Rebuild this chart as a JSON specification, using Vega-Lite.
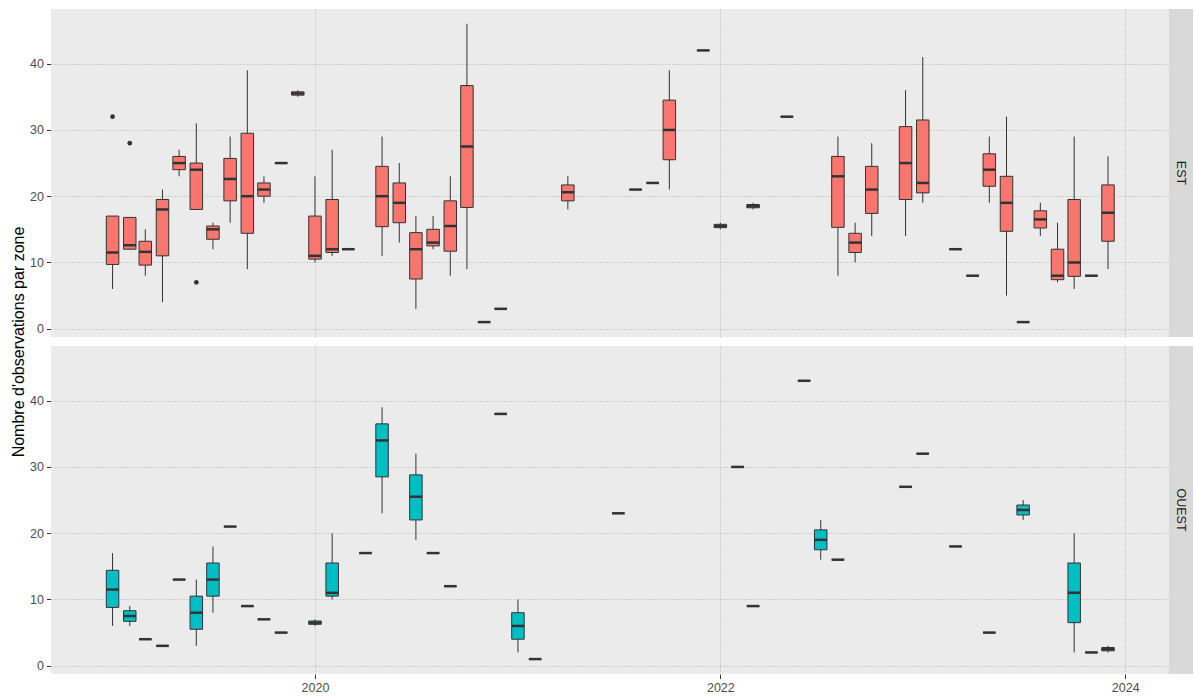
{
  "$schema": "https://vega.github.io/schema/vega-lite/v6.json",
  "padding": {"left": 10, "top": 9, "right": 0, "bottom": 0},
  "autosize": {"type": "pad"},
  "background": "#FFFFFF",
  "config": {"font": "Liberation Sans", "view": {"stroke": null}},
  "datasets": {
    "boxes": [
      {"date": "2019-01-01", "zone": "EST", "min": 6, "q1": 9.7, "med": 11.5, "q3": 17, "max": 17, "out": 32},
      {"date": "2019-02-01", "zone": "EST", "min": 12, "q1": 12, "med": 12.6, "q3": 16.8, "max": 16.8, "out": 28},
      {"date": "2019-03-01", "zone": "EST", "min": 8, "q1": 9.6, "med": 11.6, "q3": 13.2, "max": 15},
      {"date": "2019-04-01", "zone": "EST", "min": 4, "q1": 11, "med": 18, "q3": 19.5, "max": 21},
      {"date": "2019-05-01", "zone": "EST", "min": 23, "q1": 24, "med": 25, "q3": 26, "max": 27},
      {"date": "2019-06-01", "zone": "EST", "min": 18, "q1": 18, "med": 24, "q3": 25, "max": 31, "out": 7},
      {"date": "2019-07-01", "zone": "EST", "min": 12, "q1": 13.5, "med": 15, "q3": 15.5, "max": 16},
      {"date": "2019-08-01", "zone": "EST", "min": 16, "q1": 19.3, "med": 22.6, "q3": 25.7, "max": 29},
      {"date": "2019-09-01", "zone": "EST", "min": 9, "q1": 14.4, "med": 20, "q3": 29.5, "max": 39},
      {"date": "2019-10-01", "zone": "EST", "min": 19, "q1": 20, "med": 21, "q3": 22, "max": 23},
      {"date": "2019-11-01", "zone": "EST", "min": 25, "q1": 25, "med": 25, "q3": 25, "max": 25},
      {"date": "2019-12-01", "zone": "EST", "min": 35, "q1": 35.25, "med": 35.5, "q3": 35.75, "max": 36},
      {"date": "2020-01-01", "zone": "EST", "min": 10, "q1": 10.5, "med": 11, "q3": 17, "max": 23},
      {"date": "2020-02-01", "zone": "EST", "min": 11, "q1": 11.5, "med": 12, "q3": 19.5, "max": 27},
      {"date": "2020-03-01", "zone": "EST", "min": 12, "q1": 12, "med": 12, "q3": 12, "max": 12},
      {"date": "2020-05-01", "zone": "EST", "min": 11, "q1": 15.4, "med": 20, "q3": 24.5, "max": 29},
      {"date": "2020-06-01", "zone": "EST", "min": 13, "q1": 16, "med": 19, "q3": 22, "max": 25},
      {"date": "2020-07-01", "zone": "EST", "min": 3, "q1": 7.5, "med": 12, "q3": 14.5, "max": 17},
      {"date": "2020-08-01", "zone": "EST", "min": 12, "q1": 12.5, "med": 13, "q3": 15, "max": 17},
      {"date": "2020-09-01", "zone": "EST", "min": 8, "q1": 11.7, "med": 15.5, "q3": 19.3, "max": 23},
      {"date": "2020-10-01", "zone": "EST", "min": 9, "q1": 18.3, "med": 27.5, "q3": 36.7, "max": 46},
      {"date": "2020-11-01", "zone": "EST", "min": 1, "q1": 1, "med": 1, "q3": 1, "max": 1},
      {"date": "2020-12-01", "zone": "EST", "min": 3, "q1": 3, "med": 3, "q3": 3, "max": 3},
      {"date": "2021-04-01", "zone": "EST", "min": 18, "q1": 19.3, "med": 20.6, "q3": 21.7, "max": 23},
      {"date": "2021-08-01", "zone": "EST", "min": 21, "q1": 21, "med": 21, "q3": 21, "max": 21},
      {"date": "2021-09-01", "zone": "EST", "min": 22, "q1": 22, "med": 22, "q3": 22, "max": 22},
      {"date": "2021-10-01", "zone": "EST", "min": 21, "q1": 25.5, "med": 30, "q3": 34.5, "max": 39},
      {"date": "2021-12-01", "zone": "EST", "min": 42, "q1": 42, "med": 42, "q3": 42, "max": 42},
      {"date": "2022-01-01", "zone": "EST", "min": 15, "q1": 15.25, "med": 15.5, "q3": 15.75, "max": 16},
      {"date": "2022-03-01", "zone": "EST", "min": 18, "q1": 18.25, "med": 18.5, "q3": 18.75, "max": 19},
      {"date": "2022-05-01", "zone": "EST", "min": 32, "q1": 32, "med": 32, "q3": 32, "max": 32},
      {"date": "2022-08-01", "zone": "EST", "min": 8, "q1": 15.3, "med": 23, "q3": 26, "max": 29},
      {"date": "2022-09-01", "zone": "EST", "min": 10, "q1": 11.5, "med": 13, "q3": 14.4, "max": 16},
      {"date": "2022-10-01", "zone": "EST", "min": 14, "q1": 17.4, "med": 21, "q3": 24.5, "max": 28},
      {"date": "2022-12-01", "zone": "EST", "min": 14, "q1": 19.5, "med": 25, "q3": 30.5, "max": 36},
      {"date": "2023-01-01", "zone": "EST", "min": 19, "q1": 20.5, "med": 22, "q3": 31.5, "max": 41},
      {"date": "2023-03-01", "zone": "EST", "min": 12, "q1": 12, "med": 12, "q3": 12, "max": 12},
      {"date": "2023-04-01", "zone": "EST", "min": 8, "q1": 8, "med": 8, "q3": 8, "max": 8},
      {"date": "2023-05-01", "zone": "EST", "min": 19, "q1": 21.5, "med": 24, "q3": 26.4, "max": 29},
      {"date": "2023-06-01", "zone": "EST", "min": 5, "q1": 14.7, "med": 19, "q3": 23, "max": 32},
      {"date": "2023-07-01", "zone": "EST", "min": 1, "q1": 1, "med": 1, "q3": 1, "max": 1},
      {"date": "2023-08-01", "zone": "EST", "min": 14, "q1": 15.2, "med": 16.5, "q3": 17.8, "max": 19},
      {"date": "2023-09-01", "zone": "EST", "min": 7, "q1": 7.4, "med": 8, "q3": 12, "max": 16},
      {"date": "2023-10-01", "zone": "EST", "min": 6, "q1": 7.9, "med": 10, "q3": 19.5, "max": 29},
      {"date": "2023-11-01", "zone": "EST", "min": 8, "q1": 8, "med": 8, "q3": 8, "max": 8},
      {"date": "2023-12-01", "zone": "EST", "min": 9, "q1": 13.2, "med": 17.5, "q3": 21.7, "max": 26},
      {"date": "2019-01-01", "zone": "OUEST", "min": 6, "q1": 8.8, "med": 11.5, "q3": 14.4, "max": 17},
      {"date": "2019-02-01", "zone": "OUEST", "min": 6, "q1": 6.7, "med": 7.5, "q3": 8.3, "max": 9},
      {"date": "2019-03-01", "zone": "OUEST", "min": 4, "q1": 4, "med": 4, "q3": 4, "max": 4},
      {"date": "2019-04-01", "zone": "OUEST", "min": 3, "q1": 3, "med": 3, "q3": 3, "max": 3},
      {"date": "2019-05-01", "zone": "OUEST", "min": 13, "q1": 13, "med": 13, "q3": 13, "max": 13},
      {"date": "2019-06-01", "zone": "OUEST", "min": 3, "q1": 5.5, "med": 8, "q3": 10.5, "max": 13},
      {"date": "2019-07-01", "zone": "OUEST", "min": 8, "q1": 10.5, "med": 13, "q3": 15.5, "max": 18},
      {"date": "2019-08-01", "zone": "OUEST", "min": 21, "q1": 21, "med": 21, "q3": 21, "max": 21},
      {"date": "2019-09-01", "zone": "OUEST", "min": 9, "q1": 9, "med": 9, "q3": 9, "max": 9},
      {"date": "2019-10-01", "zone": "OUEST", "min": 7, "q1": 7, "med": 7, "q3": 7, "max": 7},
      {"date": "2019-11-01", "zone": "OUEST", "min": 5, "q1": 5, "med": 5, "q3": 5, "max": 5},
      {"date": "2020-01-01", "zone": "OUEST", "min": 6, "q1": 6.25, "med": 6.5, "q3": 6.75, "max": 7},
      {"date": "2020-02-01", "zone": "OUEST", "min": 10, "q1": 10.5, "med": 11, "q3": 15.5, "max": 20},
      {"date": "2020-04-01", "zone": "OUEST", "min": 17, "q1": 17, "med": 17, "q3": 17, "max": 17},
      {"date": "2020-05-01", "zone": "OUEST", "min": 23, "q1": 28.5, "med": 34, "q3": 36.5, "max": 39},
      {"date": "2020-07-01", "zone": "OUEST", "min": 19, "q1": 22, "med": 25.5, "q3": 28.8, "max": 32},
      {"date": "2020-08-01", "zone": "OUEST", "min": 17, "q1": 17, "med": 17, "q3": 17, "max": 17},
      {"date": "2020-09-01", "zone": "OUEST", "min": 12, "q1": 12, "med": 12, "q3": 12, "max": 12},
      {"date": "2020-12-01", "zone": "OUEST", "min": 38, "q1": 38, "med": 38, "q3": 38, "max": 38},
      {"date": "2021-01-01", "zone": "OUEST", "min": 2, "q1": 4, "med": 6, "q3": 8, "max": 10},
      {"date": "2021-02-01", "zone": "OUEST", "min": 1, "q1": 1, "med": 1, "q3": 1, "max": 1},
      {"date": "2021-07-01", "zone": "OUEST", "min": 23, "q1": 23, "med": 23, "q3": 23, "max": 23},
      {"date": "2022-02-01", "zone": "OUEST", "min": 30, "q1": 30, "med": 30, "q3": 30, "max": 30},
      {"date": "2022-03-01", "zone": "OUEST", "min": 9, "q1": 9, "med": 9, "q3": 9, "max": 9},
      {"date": "2022-06-01", "zone": "OUEST", "min": 43, "q1": 43, "med": 43, "q3": 43, "max": 43},
      {"date": "2022-07-01", "zone": "OUEST", "min": 16, "q1": 17.5, "med": 19, "q3": 20.5, "max": 22},
      {"date": "2022-08-01", "zone": "OUEST", "min": 16, "q1": 16, "med": 16, "q3": 16, "max": 16},
      {"date": "2022-12-01", "zone": "OUEST", "min": 27, "q1": 27, "med": 27, "q3": 27, "max": 27},
      {"date": "2023-01-01", "zone": "OUEST", "min": 32, "q1": 32, "med": 32, "q3": 32, "max": 32},
      {"date": "2023-03-01", "zone": "OUEST", "min": 18, "q1": 18, "med": 18, "q3": 18, "max": 18},
      {"date": "2023-05-01", "zone": "OUEST", "min": 5, "q1": 5, "med": 5, "q3": 5, "max": 5},
      {"date": "2023-07-01", "zone": "OUEST", "min": 22, "q1": 22.75, "med": 23.5, "q3": 24.25, "max": 25},
      {"date": "2023-10-01", "zone": "OUEST", "min": 2, "q1": 6.5, "med": 11, "q3": 15.5, "max": 20},
      {"date": "2023-11-01", "zone": "OUEST", "min": 2, "q1": 2, "med": 2, "q3": 2, "max": 2},
      {"date": "2023-12-01", "zone": "OUEST", "min": 2, "q1": 2.25, "med": 2.5, "q3": 2.75, "max": 3}
    ],
    "zones": [{"zone": "EST"}, {"zone": "OUEST"}]
  },
  "spacing": 0,
  "hconcat": [
    {
      "data": {"name": "boxes"},
      "facet": {
        "row": {
          "field": "zone", "type": "nominal",
          "header": {"title": "Nombre d'observations par zone", "labels": false, "titleFontSize": 16, "titleFontWeight": "normal", "titleColor": "#000000", "titleFont": "Liberation Sans", "titlePadding": -8}
        }
      },
      "spacing": {"row": 9},
      "spec": {
        "width": 1118,
        "height": 328,
        "view": {"fill": "#EBEBEB", "stroke": null},
        "encoding": {
          "x": {
            "field": "date", "type": "temporal",
            "scale": {"type": "utc", "domain": [{"year": 2018, "month": 9, "date": 21, "utc": true}, {"year": 2024, "month": 3, "date": 11, "utc": true}]},
            "axis": {
              "title": null, "format": "%Y", "formatType": "utc",
              "values": [{"year": 2020, "month": 1, "date": 1, "utc": true}, {"year": 2022, "month": 1, "date": 1, "utc": true}, {"year": 2024, "month": 1, "date": 1, "utc": true}],
              "domain": false, "grid": true, "gridDash": [1, 2], "gridColor": "#B3B3B3", "gridWidth": 1,
              "tickColor": "#333333", "tickSize": 4.5, "labelColor": "#4D4D4D", "labelFontSize": 12.5, "labelPadding": 3, "labelFlush": false
            }
          }
        },
        "layer": [
          {
            "mark": {"type": "rule", "color": "#333333", "strokeWidth": 1},
            "encoding": {
              "y": {
                "field": "min", "type": "quantitative",
                "scale": {"domain": [-1.25, 48.25], "nice": false, "zero": false},
                "axis": {
                  "title": null, "values": [0, 10, 20, 30, 40], "domain": false, "grid": true, "gridDash": [1, 2], "gridColor": "#B3B3B3", "gridWidth": 1,
                  "tickColor": "#333333", "tickSize": 4.5, "labelColor": "#4D4D4D", "labelFontSize": 12.5, "labelPadding": 3
                }
              },
              "y2": {"field": "max"}
            }
          },
          {
            "mark": {"type": "bar", "width": 12.5, "stroke": "#333333", "strokeWidth": 1},
            "encoding": {
              "y": {"field": "q1", "type": "quantitative"},
              "y2": {"field": "q3"},
              "fill": {"field": "zone", "type": "nominal", "scale": {"domain": ["EST", "OUEST"], "range": ["#F8766D", "#00BFC4"]}, "legend": null}
            }
          },
          {
            "mark": {"type": "tick", "orient": "horizontal", "color": "#333333", "thickness": 2.5, "size": 12.5, "opacity": 1},
            "encoding": {"y": {"field": "med", "type": "quantitative"}}
          },
          {
            "mark": {"type": "point", "filled": true, "color": "#333333", "size": 22, "opacity": 1},
            "encoding": {"y": {"field": "out", "type": "quantitative"}}
          }
        ]
      }
    },
    {
      "data": {"name": "zones"},
      "facet": {"row": {"field": "zone", "type": "nominal", "header": null}},
      "spacing": {"row": 9},
      "spec": {
        "width": 24,
        "height": 328,
        "view": {"fill": "#D9D9D9", "stroke": null},
        "mark": {"type": "text", "angle": 90, "fontSize": 12.5, "color": "#1A1A1A", "font": "Liberation Sans", "align": "center", "baseline": "middle"},
        "encoding": {"text": {"field": "zone", "type": "nominal"}}
      }
    }
  ]
}
